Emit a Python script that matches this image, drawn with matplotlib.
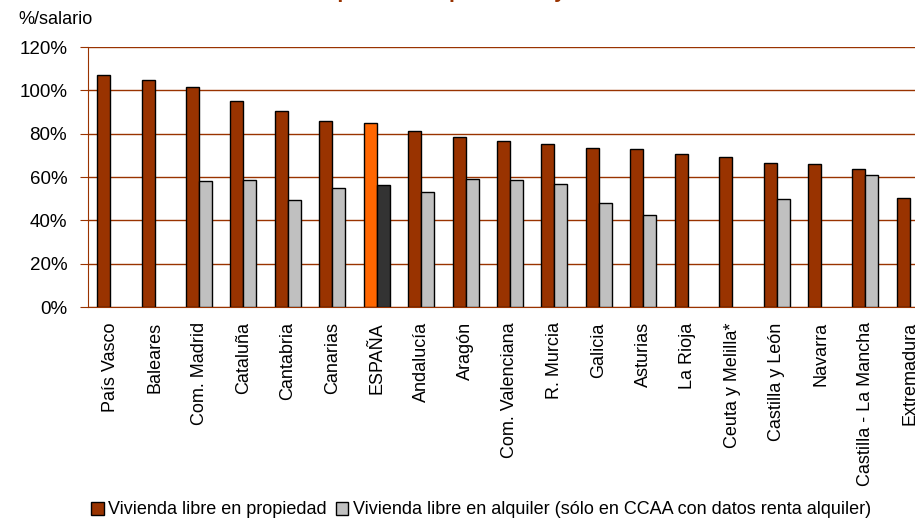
import matplotlib
matplotlib.use("Agg")
import matplotlib.pyplot as plt
import numpy as np
from matplotlib.patches import Patch

plt.rcParams['font.family'] = ['Liberation Sans', 'DejaVu Sans']

# datos (% del salario)
regiones = ["País Vasco", "Baleares", "Com. Madrid", "Cataluña", "Cantabria",
            "Canarias", "ESPAÑA", "Andalucía", "Aragón", "Com. Valenciana",
            "R. Murcia", "Galicia", "Asturias", "La Rioja", "Ceuta y Melilla*",
            "Castilla y León", "Navarra", "Castilla - La Mancha", "Extremadura"]
propiedad = [107.0, 104.8, 101.4, 95.1, 90.6, 86.0, 84.9, 81.4, 78.3, 76.8,
             75.1, 73.2, 73.1, 70.6, 69.1, 66.5, 66.2, 63.8, 50.3]
alquiler = [None, None, 58.2, 58.8, 49.4, 54.8, 56.3, 52.9, 59.2, 58.8,
            56.6, 48.1, 42.5, None, None, 49.8, None, 60.9, None]
y_ticks = [0, 20, 40, 60, 80, 100, 120]

MARRON = "#993300"
GRIS = "#C0C0C0"
NARANJA = "#FF6600"
OSCURO = "#333333"

fig = plt.figure(figsize=(9.15, 5.2), dpi=100)
ax = fig.add_axes([88 / 915, 213 / 520, 844 / 915, 260 / 520])

x = np.arange(len(regiones))
w = 0.293
col_prop = [NARANJA if r == "ESPAÑA" else MARRON for r in regiones]
ax.bar(x - w / 2, propiedad, width=w, color=col_prop, edgecolor="black",
       linewidth=1, zorder=3)

xa = [i for i, v in enumerate(alquiler) if v is not None]
va = [alquiler[i] for i in xa]
col_alq = [OSCURO if regiones[i] == "ESPAÑA" else GRIS for i in xa]
ax.bar(np.array(xa) + w / 2, va, width=w, color=col_alq, edgecolor="black",
       linewidth=1, zorder=3)

ax.set_xlim(-0.5, len(regiones) - 0.5)
ax.set_ylim(0, 120)
ax.set_yticks(y_ticks)
ax.set_yticklabels(["%d%%" % t for t in y_ticks], fontsize=13.5)
ax.set_xticks(x)
ax.set_xticklabels(regiones, rotation=90, fontsize=13, va="top")
ax.tick_params(axis="x", length=0, pad=11)
ax.tick_params(axis="y", length=6, color=MARRON, pad=9)

ax.yaxis.grid(True, color=MARRON, linewidth=1)
ax.set_axisbelow(True)
for s in ["top", "right"]:
    ax.spines[s].set_visible(False)
ax.spines["left"].set_color(MARRON)
ax.spines["bottom"].set_color(MARRON)

fig.text(18 / 915, 1 - 20 / 520, "%/salario", fontsize=13, va="center", ha="left")
# titulo cortado por arriba: solo asoman los trazos descendentes
fig.text(375 / 915, 1 + 1.5 / 520, "Esfuerzo teórico de compra: media por CCAA y tenencia",
         fontsize=15, fontweight="bold", color=MARRON, ha="center", va="baseline")

handles = [Patch(facecolor=MARRON, edgecolor="black", linewidth=1),
           Patch(facecolor=GRIS, edgecolor="black", linewidth=1)]
fig.legend(handles, ["Vivienda libre en propiedad",
                     "Vivienda libre en alquiler (sólo en CCAA con datos renta alquiler)"],
           loc="center", bbox_to_anchor=(481 / 915, 1 - 510 / 520), ncol=2,
           frameon=False, fontsize=13, handlelength=0.7, handleheight=0.7,
           handletextpad=0.25, columnspacing=0.5, borderpad=0)

fig.savefig("out.png", dpi=100)
